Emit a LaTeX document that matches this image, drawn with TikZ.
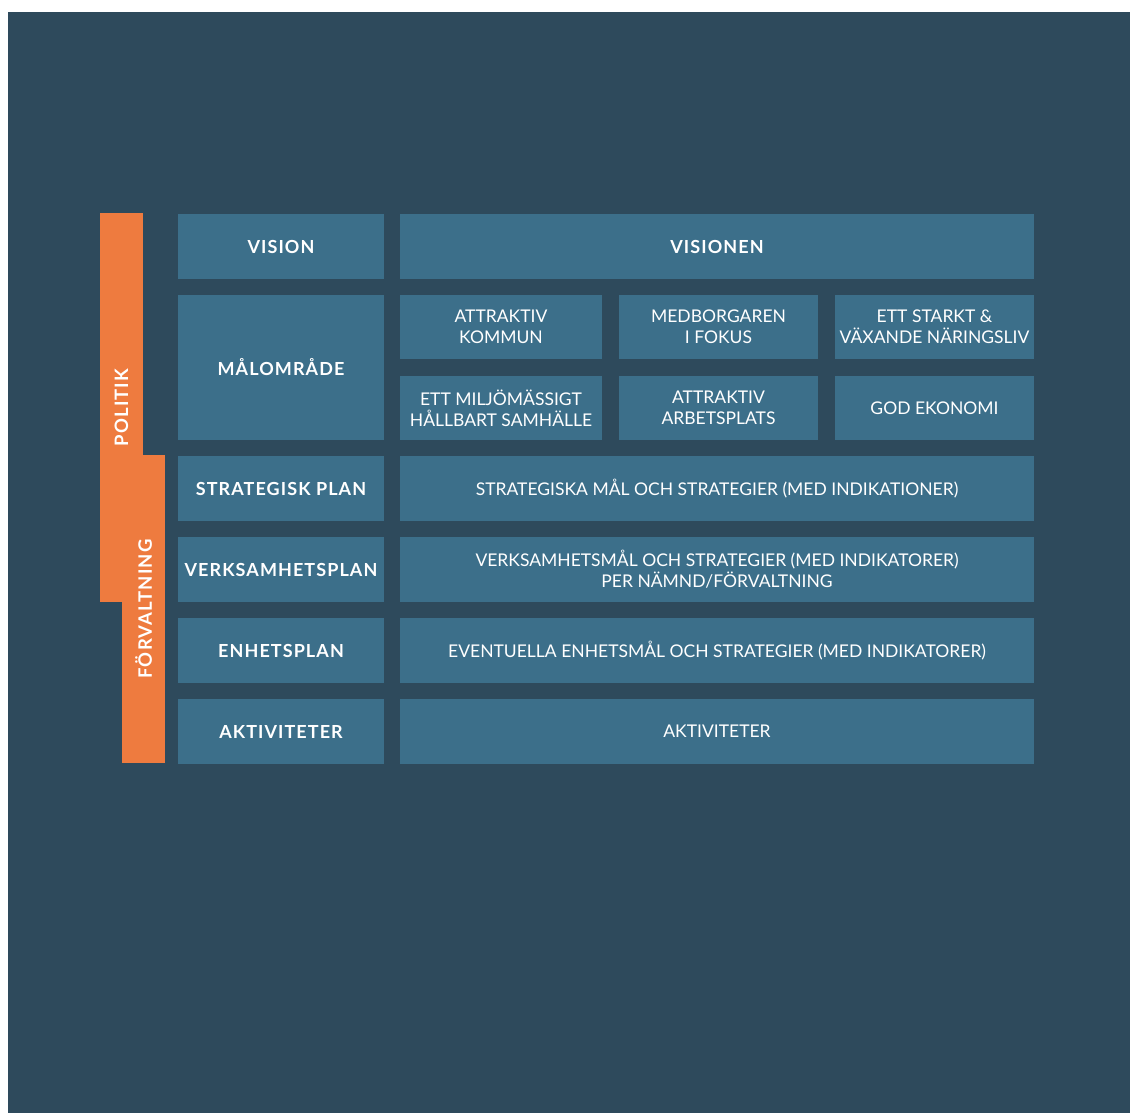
\documentclass[tikz,border=0pt]{standalone}
\usepackage{fontspec}
\setmainfont{Lato}
\newfontfamily\headfont[LetterSpace=6]{Lato}
\usetikzlibrary{positioning}

\definecolor{bgblue}{HTML}{2E4A5C}
\definecolor{boxblue}{HTML}{3C6F8A}
\definecolor{sideorange}{HTML}{EE7B3F}

\begin{document}
\begin{tikzpicture}[
        x=1pt, y=-1pt,
        node distance=16pt,
        box/.style={rectangle, fill=boxblue, text=white, inner sep=0pt, outer sep=0pt, align=center, minimum height=65pt,
            font=\fontsize{17.5}{21}\selectfont},
        head/.style={box, minimum width=206pt, font=\headfont\bfseries\fontsize{18}{21}\selectfont},
        wide/.style={box, minimum width=634pt},
        goal/.style={box, minimum width=200pt, minimum height=64pt},
        side/.style={rectangle, fill=sideorange, text=white, inner sep=0pt, outer sep=0pt, rotate=90,
            minimum height=43pt, font=\headfont\bfseries\fontsize{18.5}{21}\selectfont}
    ]

    % Background
    \fill[white] (0,0) rectangle (1130,1113);
    \fill[bgblue] (8,12) rectangle (1130,1113);
    \useasboundingbox (0,0) rectangle (1130,1113);

    % Side bars (LEFT)
    \node[side, minimum width=389pt] (politik) at (121.5,407.5) {POLITIK};
    \node[side, minimum width=308pt] (forvaltning) at (143.5,609) {FÖRVALTNING};

    % Row headings
    \node[head, anchor=north west] (vision) at (178,214) {VISION};
    \node[head, below=of vision, minimum height=145pt] (malomrade) {MÅLOMRÅDE};
    \node[head, below=of malomrade] (strategisk) {STRATEGISK PLAN};
    \node[head, below=of strategisk] (verksamhet) {VERKSAMHETSPLAN};
    \node[head, below=of verksamhet] (enhet) {ENHETSPLAN};
    \node[head, below=of enhet] (aktivitet) {AKTIVITETER};

    % Contents (RIGHT)
    \node[wide, right=of vision, font=\headfont\bfseries\fontsize{18}{21}\selectfont] (visionen) {VISIONEN};

    \node[goal, anchor=north west, minimum width=202pt] (goal-kommun) at ([xshift=16pt]malomrade.north east) {ATTRAKTIV\\KOMMUN};
    \node[goal, right=17pt of goal-kommun, minimum width=199pt] (goal-fokus) {MEDBORGAREN\\I FOKUS};
    \node[goal, right=17pt of goal-fokus, minimum width=199pt] (goal-naringsliv) {ETT STARKT \&\\VÄXANDE NÄRINGSLIV};
    \node[goal, below=17pt of goal-kommun, minimum width=202pt] (goal-miljo) {ETT MILJÖMÄSSIGT\\HÅLLBART SAMHÄLLE};
    \node[goal, below=17pt of goal-fokus, minimum width=199pt] (goal-arbetsplats) {ATTRAKTIV\\ARBETSPLATS};
    \node[goal, below=17pt of goal-naringsliv, minimum width=199pt] (goal-ekonomi) {GOD EKONOMI};

    \node[wide, right=of strategisk] (strategisk-mal) {STRATEGISKA MÅL OCH STRATEGIER (MED INDIKATIONER)};
    \node[wide, right=of verksamhet] (verksamhet-mal) {VERKSAMHETSMÅL OCH STRATEGIER (MED INDIKATORER)\\PER NÄMND/FÖRVALTNING};
    \node[wide, right=of enhet] (enhet-mal) {EVENTUELLA ENHETSMÅL OCH STRATEGIER (MED INDIKATORER)};
    \node[wide, right=of aktivitet] (aktivitet-lista) {AKTIVITETER};

\end{tikzpicture}
\end{document}
